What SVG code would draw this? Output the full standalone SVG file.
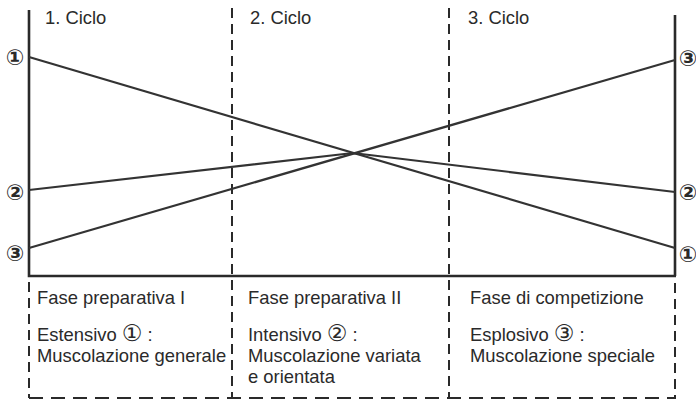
<svg xmlns="http://www.w3.org/2000/svg" width="696" height="403" viewBox="0 0 696 403">
<style>
text{font-family:"Liberation Sans","DejaVu Sans",sans-serif;fill:#2a2a2a}
.t{font-size:18.4px}
.c{font-family:"DejaVu Sans","Noto Sans CJK SC",sans-serif;font-size:22px;font-weight:bold;text-anchor:middle;dominant-baseline:central}
.i{font-family:"DejaVu Sans","Noto Sans CJK SC",sans-serif;font-size:23px}
.ax{stroke:#2a2a2a;stroke-width:2.6;fill:none}
.dv{stroke:#2a2a2a;stroke-width:2;stroke-dasharray:10 6;fill:none}
.dh{stroke:#2a2a2a;stroke-width:2;stroke-dasharray:14 8;fill:none}
.ln{stroke:#333;stroke-width:2.2;fill:none}
</style>
<rect width="696" height="403" fill="#fff"/>
<g id="axes">
<path class="ax" d="M29,10 V276 H676 M675,15 V276"/>
</g>
<g id="grid">
<path class="dv" d="M232,8 V398 M449,8 V398 M29,282 V398 M675,283 V398"/>
<path class="dh" d="M29,398 H676"/>
</g>
<g id="connectors">
<path class="ln" d="M29,57 L675,248"/>
<path class="ln" d="M29,190 L353,153 L675,192"/>
<path class="ln" d="M29,248 L675,60"/>
</g>
<g id="cycle1"><text class="t" x="45" y="24">1. Ciclo</text></g>
<g id="cycle2"><text class="t" x="250" y="24">2. Ciclo</text></g>
<g id="cycle3"><text class="t" x="468" y="24">3. Ciclo</text></g>
<g id="left-labels">
<text class="c" x="15" y="57">①</text>
<text class="c" x="15" y="192">②</text>
<text class="c" x="15" y="253">③</text>
</g>
<g id="right-labels">
<text class="c" x="688" y="58">③</text>
<text class="c" x="688" y="192">②</text>
<text class="c" x="688" y="254">①</text>
</g>
<g id="phase1">
<text class="t" x="37" y="304">Fase preparativa I</text>
<text class="t" x="37" y="341">Estensivo <tspan class="i">①</tspan> :</text>
<text class="t" x="37" y="362">Muscolazione generale</text>
</g>
<g id="phase2">
<text class="t" x="248" y="304">Fase preparativa II</text>
<text class="t" x="248" y="341">Intensivo <tspan class="i">②</tspan> :</text>
<text class="t" x="248" y="362">Muscolazione variata</text>
<text class="t" x="248" y="383">e orientata</text>
</g>
<g id="phase3">
<text class="t" x="470" y="304">Fase di competizione</text>
<text class="t" x="470" y="341">Esplosivo <tspan class="i">③</tspan> :</text>
<text class="t" x="470" y="362">Muscolazione speciale</text>
</g>
</svg>
